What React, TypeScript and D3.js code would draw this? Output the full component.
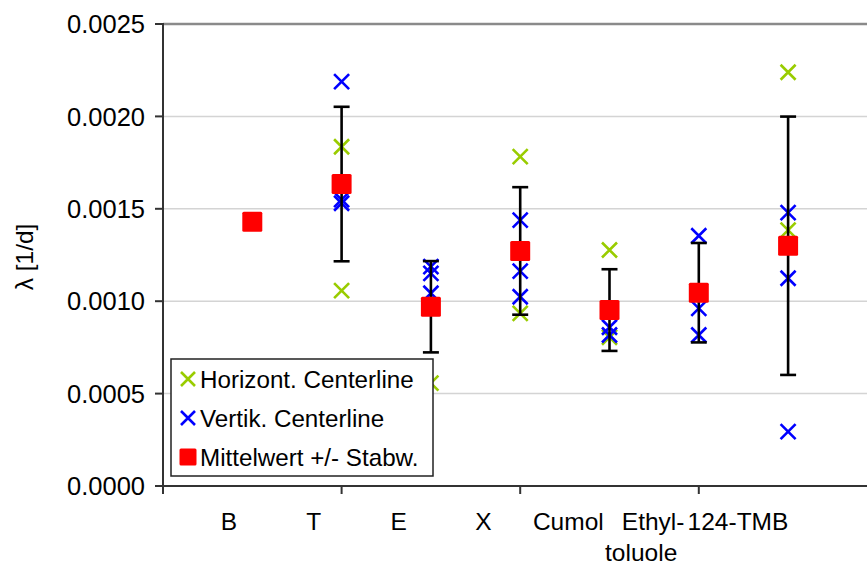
import React from "react";
import * as d3 from "d3";

const categories = ["B", "T", "E", "X", "Cumol", "Ethyl-\ntoluole", "124-TMB"];
const horizontal: number[][] = [
  [],
  [0.001836, 0.001057],
  [0.000557],
  [0.001782, 0.000934],
  [0.001277, 0.000805],
  [],
  [0.002239, 0.001385],
];
const vertical: number[][] = [
  [],
  [0.002188, 0.00155, 0.00153],
  [0.001187, 0.001151, 0.001043],
  [0.001439, 0.001163, 0.001024],
  [0.000859, 0.000817],
  [0.001354, 0.000961, 0.000817],
  [0.001479, 0.001124, 0.000294],
];
const means = [0.00143, 0.001634, 0.00097, 0.001272, 0.000952, 0.001046, 0.0013];
const stdevs: (number | null)[] = [null, 0.000418, 0.000247, 0.000345, 0.000221, 0.000269, 0.000699];
const yTicks = [0, 0.0005, 0.001, 0.0015, 0.002, 0.0025];
const xTicks = [0, 2, 4, 6, 8];
const legendLabels = ["Horizont. Centerline", "Vertik. Centerline", "Mittelwert +/- Stabw."];

const W = 867;
const H = 565;
const GREEN = "#99cc00";
const BLUE = "#0000ff";
const RED = "#ff0000";
const FONT = "'Liberation Sans', Arial, sans-serif";

function XMark({ x, y, color, s = 7.5 }: { x: number; y: number; color: string; s?: number }) {
  return (
    <path
      d={`M${x - s},${y - s}L${x + s},${y + s}M${x - s},${y + s}L${x + s},${y - s}`}
      stroke={color}
      strokeWidth={2.6}
      fill="none"
    />
  );
}

export default function App() {
  const left = 163;
  const top = 24;
  const bottom = 486;
  const right = W;
  const x = d3.scaleLinear().domain([0, 8]).range([left, left + 8 * 89.3]);
  const y = d3.scaleLinear().domain([0, 0.0025]).range([bottom, top]);
  const labelX = d3
    .scaleLinear()
    .domain([0, categories.length - 1])
    .range([229, 738]);
  const fmt = d3.format(".4f");

  return (
    <svg
      width={W}
      height={H}
      style={{ position: "absolute", left: 0, top: 0, background: "#fff" }}
      fontFamily={FONT}
    >
      <rect x={0} y={0} width={W} height={H} fill="#fff" />
      {/* gridlines */}
      {yTicks.slice(1).map((t) => (
        <line
          key={"g" + t}
          x1={left}
          x2={right}
          y1={y(t)}
          y2={y(t)}
          stroke={t === 0.0025 ? "#8a8a8a" : "#d4d4d4"}
          strokeWidth={t === 0.0025 ? 2.5 : 1.5}
        />
      ))}
      {/* y axis */}
      <line x1={left} x2={left} y1={top - 1} y2={bottom} stroke="#333" strokeWidth={2} />
      {yTicks.map((t) => (
        <g key={"yt" + t}>
          <line x1={left - 8} x2={left} y1={y(t)} y2={y(t)} stroke="#333" strokeWidth={2} />
          <text x={145} y={y(t)} dy="0.36em" textAnchor="end" fontSize={25.5} fill="#000">
            {fmt(t)}
          </text>
        </g>
      ))}
      {/* x axis */}
      <line x1={left - 8} x2={right} y1={bottom} y2={bottom} stroke="#333" strokeWidth={2} />
      {xTicks.map((t) => (
        <line key={"xt" + t} x1={x(t)} x2={x(t)} y1={bottom} y2={bottom + 8} stroke="#333" strokeWidth={2} />
      ))}
      {categories.map((c, i) => (
        <text key={"c" + i} x={labelX(i)} y={530} textAnchor="middle" fontSize={24.5} fill="#000">
          {c.split("\n").map((line, j) => (
            <tspan key={j} x={labelX(i) - j * 12} dy={j === 0 ? 0 : 31}>
              {line}
            </tspan>
          ))}
        </text>
      ))}
      {/* y title */}
      <text
        transform={`translate(33,257) rotate(-90)`}
        textAnchor="middle"
        fontSize={24.5}
        fill="#000"
      >
        λ [1/d]
      </text>
      {/* series: horizontal */}
      {horizontal.map((vals, i) =>
        vals.map((v, j) => <XMark key={`h${i}-${j}`} x={x(i + 1)} y={y(v)} color={GREEN} />)
      )}
      {/* series: vertical */}
      {vertical.map((vals, i) =>
        vals.map((v, j) => <XMark key={`v${i}-${j}`} x={x(i + 1)} y={y(v)} color={BLUE} />)
      )}
      {/* error bars */}
      {means.map((m, i) => {
        const sd = stdevs[i];
        if (sd == null) return null;
        const cx = x(i + 1);
        return (
          <g key={"e" + i} stroke="#000" strokeWidth={2.6}>
            <line x1={cx} x2={cx} y1={y(m + sd)} y2={y(m - sd)} />
            <line x1={cx - 8} x2={cx + 8} y1={y(m + sd)} y2={y(m + sd)} />
            <line x1={cx - 8} x2={cx + 8} y1={y(m - sd)} y2={y(m - sd)} />
          </g>
        );
      })}
      {/* means */}
      {means.map((m, i) => (
        <rect key={"m" + i} x={x(i + 1) - 10} y={y(m) - 10} width={20} height={20} rx={1.5} fill={RED} />
      ))}
      {/* legend */}
      <g>
        <rect x={171} y={359} width={262} height={117} fill="#fff" stroke="#222" strokeWidth={1.5} />
        {legendLabels.map((l, i) => {
          const ly = 379 + i * 39;
          return (
            <g key={"l" + i}>
              {i === 0 && <XMark x={188} y={ly} color={GREEN} s={7} />}
              {i === 1 && <XMark x={188} y={ly} color={BLUE} s={7} />}
              {i === 2 && <rect x={179.5} y={ly - 8.5} width={17} height={17} rx={1.5} fill={RED} />}
              <text x={200} y={ly} dy="0.36em" fontSize={24.2} fill="#000">
                {l}
              </text>
            </g>
          );
        })}
      </g>
    </svg>
  );
}
